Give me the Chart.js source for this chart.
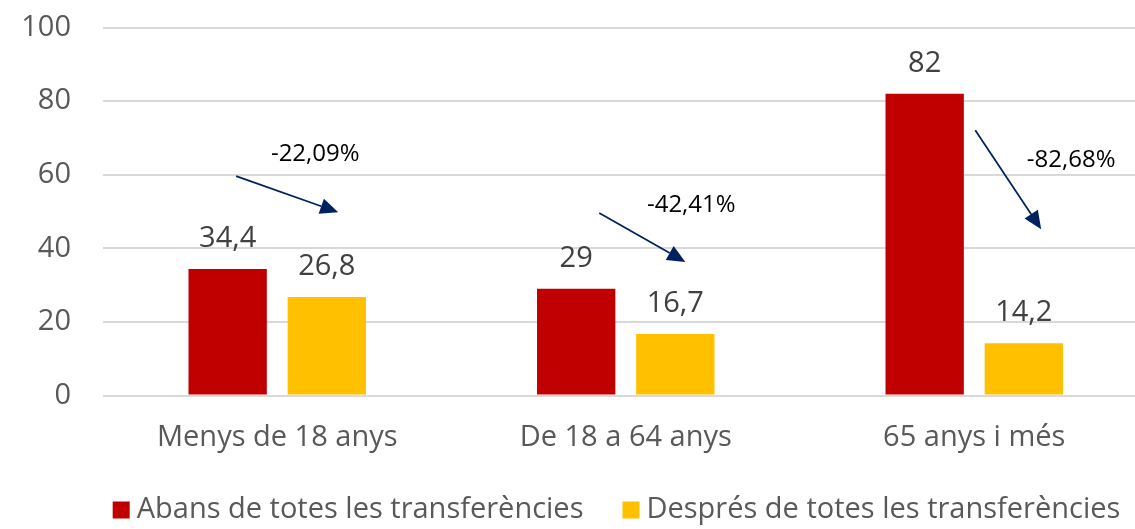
<!DOCTYPE html>
<html>
<head>
<meta charset="utf-8">
<script src="https://cdn.jsdelivr.net/npm/chart.js@4.4.1/dist/chart.umd.min.js"></script>
<style>
html, body { margin: 0; padding: 0; background: #ffffff; overflow: hidden; width: 1135px; height: 529px; }
canvas { display: block; }
</style>
</head>
<body>
<canvas id="c" width="1150" height="529"></canvas>
<script>
// ---- data ----
const categories = ['Menys de 18 anys', 'De 18 a 64 anys', '65 anys i més'];
const seriesNames = ['Abans de totes les transferències', 'Després de totes les transferències'];
const abans = [34.4, 29, 82];
const despres = [26.8, 16.7, 14.2];
const yTicks = [0, 20, 40, 60, 80, 100];
// annotation arrows: [category position, value]
const arrowLabels = ['-22,09%', '-42,41%', '-82,68%'];
const arrowStart = [[-0.118, 59.6], [0.924, 49.6], [2.003, 72.1]];
const arrowEnd = [[0.175, 49.8], [1.171, 36.3], [2.192, 45.2]];
const arrowLabelPos = [[0.109, 65.6], [1.188, 51.8], [2.278, 64.0]];

const FONT = '"Open Sans", sans-serif';
const fmt = v => String(v).replace('.', ',');

const valueLabels = {
  id: 'valueLabels',
  afterDatasetsDraw(chart) {
    const ctx = chart.ctx;
    ctx.save();
    ctx.font = '29px ' + FONT;
    ctx.fillStyle = '#404040';
    ctx.textAlign = 'center';
    ctx.textBaseline = 'alphabetic';
    chart.data.datasets.forEach((ds, di) => {
      chart.getDatasetMeta(di).data.forEach((bar, i) => {
        ctx.fillText(fmt(ds.data[i]), bar.x, bar.y - 22);
      });
    });
    ctx.restore();
  }
};

const arrows = {
  id: 'arrows',
  afterDatasetsDraw(chart) {
    const ctx = chart.ctx;
    const xs = chart.scales.x, ys = chart.scales.y;
    ctx.save();
    arrowStart.forEach((s, i) => {
      const x1 = xs.getPixelForValue(s[0]), y1 = ys.getPixelForValue(s[1]);
      const x2 = xs.getPixelForValue(arrowEnd[i][0]), y2 = ys.getPixelForValue(arrowEnd[i][1]);
      const ang = Math.atan2(y2 - y1, x2 - x1);
      const L = 18, W = 8;
      const bx = x2 - L * Math.cos(ang), by = y2 - L * Math.sin(ang);
      ctx.strokeStyle = '#002060';
      ctx.fillStyle = '#002060';
      ctx.lineWidth = 1.75;
      ctx.beginPath();
      ctx.moveTo(x1, y1);
      ctx.lineTo(bx, by);
      ctx.stroke();
      ctx.beginPath();
      ctx.moveTo(x2, y2);
      ctx.lineTo(bx + W * Math.sin(ang), by - W * Math.cos(ang));
      ctx.lineTo(bx - W * Math.sin(ang), by + W * Math.cos(ang));
      ctx.closePath();
      ctx.fill();
      const lp = arrowLabelPos[i];
      ctx.font = '24px ' + FONT;
      ctx.fillStyle = '#000000';
      ctx.textAlign = 'center';
      ctx.textBaseline = 'middle';
      ctx.fillText(arrowLabels[i], xs.getPixelForValue(lp[0]), ys.getPixelForValue(lp[1]));
    });
    ctx.restore();
  }
};

// legend drawn below the x axis, centred like the original
const customLegend = {
  id: 'customLegend',
  afterDraw(chart) {
    const ctx = chart.ctx;
    ctx.save();
    ctx.font = '29px ' + FONT;
    ctx.textBaseline = 'middle';
    ctx.textAlign = 'left';
    const box = 17, gapText = 7, gapItem = 39, cy = 510, centre = 616.5;
    const items = chart.data.datasets.map(ds => ({ text: ds.label, color: ds.backgroundColor, w: ctx.measureText(ds.label).width }));
    const total = items.reduce((s, it) => s + box + gapText + it.w, 0) + gapItem * (items.length - 1);
    let x = centre - total / 2;
    items.forEach(it => {
      ctx.fillStyle = it.color;
      ctx.fillRect(x, cy - box / 2, box, box);
      ctx.fillStyle = '#595959';
      ctx.fillText(it.text, x + box + gapText, cy);
      x += box + gapText + it.w + gapItem;
    });
    ctx.restore();
  }
};

new Chart(document.getElementById('c'), {
  type: 'bar',
  data: {
    labels: categories,
    datasets: [
      { label: seriesNames[0], data: abans, backgroundColor: '#c00000', borderWidth: 0 },
      { label: seriesNames[1], data: despres, backgroundColor: '#ffc000', borderWidth: 0 }
    ]
  },
  options: {
    responsive: false,
    animation: false,
    layout: { padding: { top: 27.5, right: 1.5, left: 0, bottom: 48.5 } },
    datasets: { bar: { categoryPercentage: 0.569, barPercentage: 0.79 } },
    scales: {
      x: {
        grid: { display: false, drawTicks: false },
        border: { display: false },
        ticks: { font: { family: FONT, size: 29 }, color: '#595959', padding: 25.1 }
      },
      y: {
        min: 0, max: 100,
        afterBuildTicks(scale) { scale.ticks = yTicks.map(v => ({ value: v })); },
        afterFit(scale) { scale.width = 103; },
        grid: { color: '#d9d9d9', lineWidth: 2, drawTicks: true, tickLength: 32, tickColor: 'rgba(0,0,0,0)' },
        border: { display: false },
        ticks: { font: { family: FONT, size: 29 }, color: '#595959', padding: 0 }
      }
    },
    plugins: {
      legend: { display: false },
      tooltip: { enabled: false }
    }
  },
  plugins: [valueLabels, arrows, customLegend]
});
</script>
</body>
</html>
